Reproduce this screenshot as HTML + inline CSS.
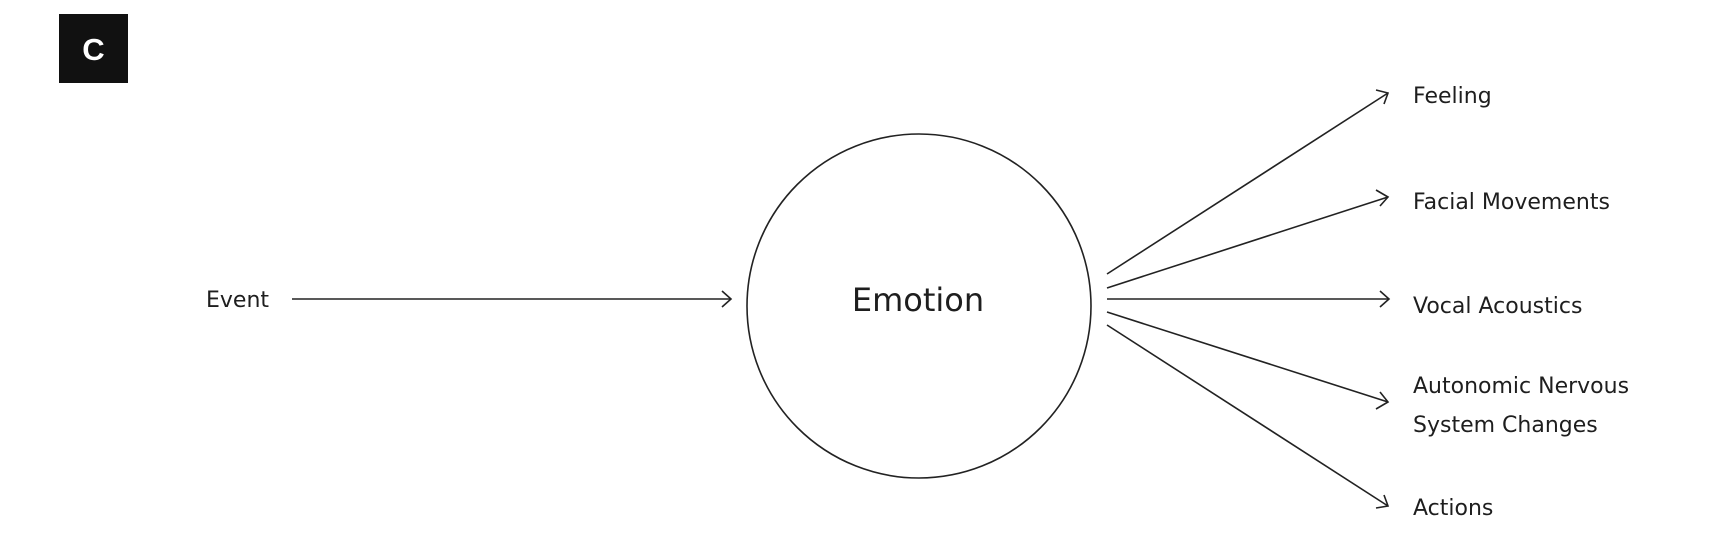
<!DOCTYPE html>
<html><head><meta charset="utf-8"><style>
html,body{margin:0;padding:0;background:#fff;}
svg{display:block;}
text{font-family:"DejaVu Sans","Liberation Sans",sans-serif;fill:#1e1e1e;}
</style></head><body>
<svg width="1736" height="536" viewBox="0 0 1736 536" xmlns="http://www.w3.org/2000/svg">
<rect x="59" y="14" width="69" height="69" fill="#111"/>
<text x="93.5" y="60" font-size="31" font-weight="bold" text-anchor="middle" style="fill:#fff;font-family:'Liberation Sans',sans-serif">C</text>
<circle cx="919" cy="306" r="172" fill="none" stroke="#222" stroke-width="1.6"/>
<text x="918" y="311" font-size="32" text-anchor="middle">Emotion</text>
<text x="206" y="307" font-size="22">Event</text>
<g stroke="#222" stroke-width="1.6" fill="none">
<line x1="292" y1="299" x2="730" y2="299"/>
<polyline points="722,291 731,299 722,307"/>
<line x1="1107" y1="274" x2="1388" y2="93"/>
<line x1="1107" y1="288" x2="1388" y2="197"/>
<line x1="1107" y1="299" x2="1388" y2="299"/>
<line x1="1107" y1="312" x2="1388" y2="402"/>
<line x1="1107" y1="325" x2="1388" y2="506"/>
<polyline points="1380,291 1389,299 1380,307"/>
<polyline points="1376,90 1388,93 1384,104"/>
<polyline points="1376,190 1388,197 1380,206"/>
<polyline points="1380,392 1388,402 1376,409"/>
<polyline points="1384,495 1388,506 1376,508"/>
</g>
<g font-size="22">
<text x="1413" y="103">Feeling</text>
<text x="1413" y="209">Facial Movements</text>
<text x="1413" y="313">Vocal Acoustics</text>
<text x="1413" y="393">Autonomic Nervous</text>
<text x="1413" y="432">System Changes</text>
<text x="1413" y="515">Actions</text>
</g>
</svg>
</body></html>
